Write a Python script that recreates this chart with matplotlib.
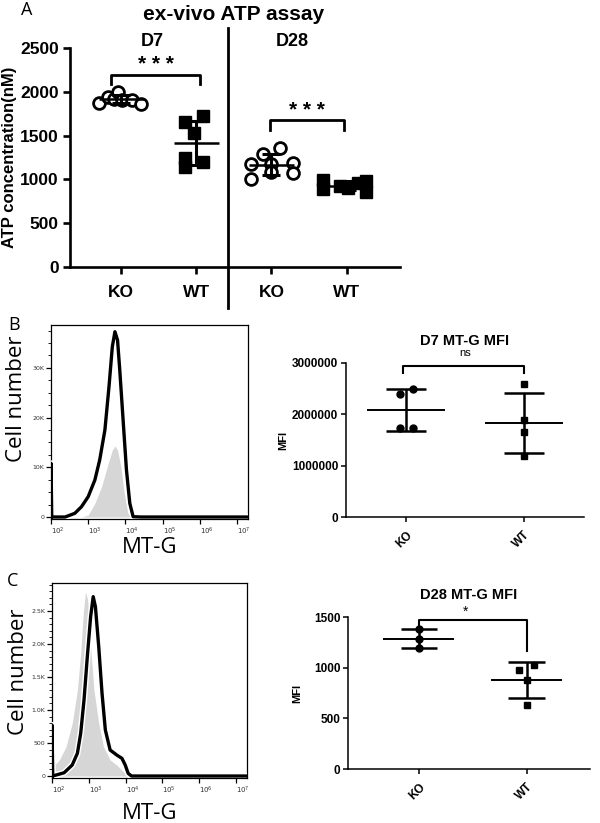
import numpy as np
import matplotlib
matplotlib.use('Agg')
import matplotlib.pyplot as plt
from matplotlib.ticker import FixedLocator, MultipleLocator, FuncFormatter, NullFormatter
import matplotlib.patheffects as pe

# ---------------- Panel A data (ex-vivo ATP assay) ----------------
a_tick_labels = ['KO', 'WT', 'KO', 'WT']
a_d7_ko = [1870, 1940, 1915, 1995, 1905, 1905, 1860]
a_d7_wt = [1659, 1724, 1533, 1241, 1202, 1138]
a_d28_ko = [1176, 1005, 1290, 1358, 1176, 1085, 1187, 1073]
a_d28_wt = [990, 885, 930, 905, 955, 985, 860]

# ---------------- Panel B/C flow histograms (log10 MT-G, count) ----------------
b_black_logx = [2.00, 2.00, 2.02, 2.38, 2.64, 2.82, 3.00, 3.18, 3.31, 3.45, 3.56, 3.65,
                3.72, 3.79, 3.85, 3.94, 4.03, 4.12, 4.21, 4.43, 7.30]
b_black_cnt = [0, 10800, 0, 0, 740, 2070, 4080, 7440, 11470, 17500, 26200, 34270,
               37280, 35600, 29580, 19500, 9460, 2750, 60, 0, 0]
b_gray_logx = [2.82, 3.00, 3.18, 3.36, 3.54, 3.65, 3.72, 3.79, 3.88, 3.97, 4.07, 4.16]
b_gray_cnt = [0, 400, 2750, 6100, 10800, 13480, 14290, 13480, 10120, 4770, 740, 0]

c_black_logx = [2.00, 2.00, 2.02, 2.33, 2.55, 2.69, 2.78, 2.87, 2.96, 3.05, 3.12, 3.18,
                3.27, 3.36, 3.45, 3.58, 3.76, 3.90, 3.99, 4.07, 4.16, 7.30]
c_black_cnt = [0, 773, 0, 50, 167, 344, 647, 1150, 1808, 2414, 2717, 2565,
               1960, 1253, 697, 394, 318, 268, 167, 40, 0, 0]
c_gray_logx = [2.00, 2.02, 2.20, 2.38, 2.55, 2.69, 2.78, 2.85, 2.91, 2.97, 3.05, 3.14,
               3.27, 3.40, 3.58, 3.76, 3.94, 4.07]
c_gray_cnt = [0, 141, 242, 444, 798, 1303, 1859, 2465, 2793, 2667, 1960, 1303,
              798, 444, 242, 167, 65, 0]

# ---------------- MFI dot plots ----------------
mfi_groups = ['KO', 'WT']
d7_mfi_ko = [2400000, 2490000, 1730000, 1740000]
d7_mfi_wt = [2590000, 1890000, 1660000, 1180000]
d28_mfi_ko = [1381, 1285, 1193]
d28_mfi_wt = [979, 1028, 874, 627]

# ----- style-only jitter offsets -----
a_off_d7_ko = [-0.30, -0.17, -0.10, -0.04, 0.01, 0.14, 0.27]
a_off_d7_wt = [-0.15, 0.09, -0.03, -0.15, 0.09, -0.15]
a_off_d28_ko = [-0.27, -0.27, -0.11, 0.12, 0.0, 0.0, 0.28, 0.28]
a_off_d28_wt = [-0.31, -0.31, -0.09, 0.02, 0.15, 0.26, 0.26]
d7_off_ko = [-0.055, 0.055, -0.055, 0.055]
d7_off_wt = [0, 0, 0, 0]
d28_off_ko = [0, 0, 0]
d28_off_wt = [-0.07, 0.07, 0, 0]

W, H = 600, 823
fig = plt.figure(figsize=(W / 100, H / 100), dpi=100)
ARIAL = ['Liberation Sans', 'DejaVu Sans']
OPEN = ['Open Sans', 'DejaVu Sans']


def px_axes(l, r, t, b):
    return fig.add_axes([l / W, 1 - b / H, (r - l) / W, (b - t) / H])


def mean_sd(ax, x, vals, half_mean, half_cap, lw_v, lw_m, z=3):
    v = np.asarray(vals, float)
    m = v.mean()
    s = v.std(ddof=1)
    ax.plot([x - half_mean, x + half_mean], [m, m], color='black', lw=lw_m, zorder=z, solid_capstyle='butt')
    ax.plot([x, x], [m - s, m + s], color='black', lw=lw_v, zorder=z, solid_capstyle='butt')
    for yy in (m - s, m + s):
        ax.plot([x - half_cap, x + half_cap], [yy, yy], color='black', lw=lw_v, zorder=z, solid_capstyle='butt')


# ======================= Panel A =======================
axA = px_axes(70, 400, 48, 267)
pos = [0, 1, 2, 3]
groups = [a_d7_ko, a_d7_wt, a_d28_ko, a_d28_wt]
offs = [a_off_d7_ko, a_off_d7_wt, a_off_d28_ko, a_off_d28_wt]
for i, (vals, off) in enumerate(zip(groups, offs)):
    xs = [pos[i] + o for o in off]
    if i % 2 == 0:
        axA.plot(xs, vals, 'o', ms=8.5, mfc='white', mec='black', mew=2.0, zorder=4)
    else:
        axA.plot(xs, vals, 's', ms=8, mfc='black', mec='black', zorder=4)
    mean_sd(axA, pos[i], vals, 0.3, 0.12, 2.2, 1.8, z=5)

axA.set_xlim(-0.68, 3.71)
axA.set_ylim(0, 2500)
axA.yaxis.set_major_locator(MultipleLocator(500))
axA.set_xticks(pos)
axA.set_xticklabels(a_tick_labels)
for sp in ['top', 'right']:
    axA.spines[sp].set_visible(False)
for sp in ['left', 'bottom']:
    axA.spines[sp].set_linewidth(1.9)
axA.tick_params(width=1.9, length=5, labelsize=12.5, pad=3)
for lab in axA.get_xticklabels() + axA.get_yticklabels():
    lab.set_fontfamily(ARIAL)
    lab.set_fontweight('bold')
axA.tick_params(axis='x', pad=8)
axA.set_ylabel('ATP concentration(nM)', fontsize=12, fontweight='bold', family=ARIAL)
axA.yaxis.set_label_coords(-53 / 330, 0.5)
# divider
axA.axvline(1.42, ymin=-0.187, ymax=1.091, color='black', lw=2.0, clip_on=False)
# brackets
axA.plot([-0.13, -0.13, 1.05, 1.05], [2089, 2192, 2192, 2089], color='black', lw=2.0, clip_on=False)
axA.plot([1.98, 1.98, 2.97, 2.97], [1564, 1678, 1678, 1564], color='black', lw=2.0, clip_on=False)
axA.text(0.46, 2310, '* * *', ha='center', va='center', fontsize=15, fontweight='bold', family=ARIAL)
axA.text(2.47, 1785, '* * *', ha='center', va='center', fontsize=15, fontweight='bold', family=ARIAL)
fig.text(234 / W, 1 - 14 / H, 'ex-vivo ATP assay', ha='center', va='center', fontsize=15,
         fontweight='bold', family=ARIAL)
fig.text(152 / W, 1 - 42 / H, 'D7', ha='center', va='center', fontsize=13, fontweight='bold', family=ARIAL)
fig.text(292 / W, 1 - 42 / H, 'D28', ha='center', va='center', fontsize=13, fontweight='bold', family=ARIAL)
fig.text(27 / W, 1 - 10 / H, 'A', ha='center', va='center', fontsize=13, family=OPEN)


# ======================= Histograms =======================
def histo(ax, blx, bc, glx, gc, ylim, major, minor, labels):
    gx = [10 ** v for v in glx]
    bx = [10 ** v for v in blx]
    ax.fill_between(gx, 0, gc, color='#d6d6d6', lw=0, zorder=2)
    ax.plot(bx, bc, color='black', lw=2.4, zorder=3, solid_joinstyle='round',
            path_effects=[pe.Stroke(linewidth=4.5, foreground='white'), pe.Normal()])
    ax.set_xscale('log')
    ax.set_xlim(10 ** 2.0, 10 ** 7.3)
    ax.set_ylim(*ylim)
    ax.set_xticks([10 ** k for k in range(2, 8)])
    ax.set_xticklabels(['$10^{%d}$' % k for k in range(2, 8)], fontsize=5, ha='left', color='#333333')
    ax.xaxis.set_minor_formatter(NullFormatter())
    ax.yaxis.set_major_locator(FixedLocator(major))
    ax.yaxis.set_minor_locator(MultipleLocator(minor))
    ax.set_yticklabels(labels, fontsize=4.5, color='#333333')
    for sp in ax.spines.values():
        sp.set_linewidth(0.9)
    ax.tick_params(which='major', length=3.5, width=0.9, pad=1.5)
    ax.tick_params(which='minor', length=2, width=0.6)
    ax.set_ylabel('Cell number', fontsize=16, family=OPEN)
    ax.set_xlabel('MT-G', fontsize=16, family=OPEN)


axB = px_axes(51, 248, 325, 519)
histo(axB, b_black_logx, b_black_cnt, b_gray_logx, b_gray_cnt, (-400, 38630),
      [0, 10000, 20000, 30000], 2500, ['0', '10K', '20K', '30K'])
axB.yaxis.set_label_coords(-0.12, 0.62)
axB.xaxis.labelpad = 0
axC = px_axes(52, 247, 583, 778)
histo(axC, c_black_logx, c_black_cnt, c_gray_logx, c_gray_cnt, (-30, 2924),
      [0, 500, 1000, 1500, 2000, 2500], 100, ['0', '500', '1.0K', '1.5K', '2.0K', '2.5K'])
axC.yaxis.set_label_coords(-0.12, 0.544)
axC.xaxis.labelpad = 5
fig.text(14 / W, 1 - 325 / H, 'B', ha='center', va='center', fontsize=13, family=OPEN)
fig.text(13 / W, 1 - 581 / H, 'C', ha='center', va='center', fontsize=13, family=OPEN)


# ======================= MFI dot plots =======================
def mfi(ax, ko, wt, off_ko, off_wt, ylim, step, fmt, title, marker_ko):
    ax.plot([0 + o for o in off_ko], ko, marker_ko, ms=5, color='black', zorder=4)
    ax.plot([1 + o for o in off_wt], wt, 's', ms=5, color='black', zorder=4)
    mean_sd(ax, 0, ko, 0.33, 0.17, 1.8, 1.4)
    mean_sd(ax, 1, wt, 0.33, 0.17, 1.8, 1.4)
    ax.set_ylim(*ylim)
    ax.yaxis.set_major_locator(MultipleLocator(step))
    ax.yaxis.set_major_formatter(FuncFormatter(fmt))
    ax.set_xticks([0, 1])
    ax.set_xticklabels(mfi_groups, rotation=45, ha='right', rotation_mode='anchor')
    for sp in ['top', 'right']:
        ax.spines[sp].set_visible(False)
    for sp in ['left', 'bottom']:
        ax.spines[sp].set_linewidth(1.1)
    ax.tick_params(width=1.1, length=3.5, labelsize=8.5, pad=2)
    ax.tick_params(axis='x', pad=5)
    for lab in ax.get_xticklabels() + ax.get_yticklabels():
        lab.set_fontfamily(ARIAL)
        lab.set_fontweight('bold')
    ax.set_ylabel('MFI', fontsize=8, fontweight='bold', family=ARIAL)
    ax.set_title(title, fontsize=10.5, fontweight='bold', family=ARIAL, pad=13)


axD7 = px_axes(346, 584, 363, 517)
mfi(axD7, d7_mfi_ko, d7_mfi_wt, d7_off_ko, d7_off_wt, (0, 3000000), 1000000,
    lambda v, p: '%d' % v, 'D7 MT-G MFI', 'o')
axD7.set_xlim(-0.51, 1.51)
axD7.yaxis.set_label_coords(-58 / 238, 0.5)
axD7.plot([-0.03, -0.03, 1.0, 1.0], [2800000, 2940000, 2940000, 2800000], color='black', lw=1.5, clip_on=False)
axD7.text(0.5, 3190000, 'ns', ha='center', va='center', fontsize=8, family=ARIAL)

axD28 = px_axes(348, 590, 617, 769)
mfi(axD28, d28_mfi_ko, d28_mfi_wt, d28_off_ko, d28_off_wt, (0, 1500), 500,
    lambda v, p: '%d' % v, 'D28 MT-G MFI', 'o')
axD28.set_xlim(-0.66, 1.59)
axD28.yaxis.set_label_coords(-46 / 242, 0.5)
axD28.plot([0, 0, 1.0, 1.0], [1406, 1473, 1473, 1160], color='black', lw=1.5, clip_on=False)
axD28.text(0.43, 1555, '*', ha='center', va='center', fontsize=10, family=ARIAL)

fig.savefig('out.png', dpi=100)
